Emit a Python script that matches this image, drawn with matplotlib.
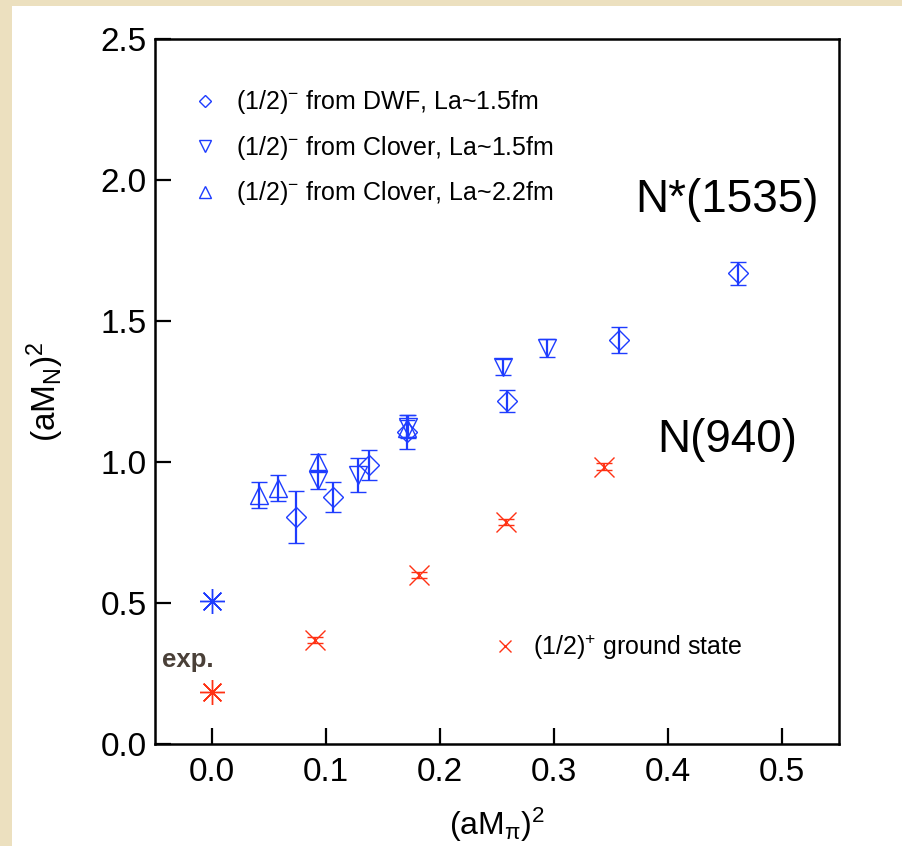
import matplotlib
matplotlib.use("Agg")
import matplotlib.pyplot as plt
from matplotlib.lines import Line2D
from matplotlib.patches import Rectangle

plt.rcParams["font.family"] = ["Liberation Sans", "DejaVu Sans"]
plt.rcParams["mathtext.fontset"] = "custom"
plt.rcParams["mathtext.rm"] = "Liberation Sans"
plt.rcParams["mathtext.it"] = "Liberation Sans:italic"
plt.rcParams["mathtext.default"] = "regular"

BLUE = "#1e3cff"
RED = "#ff3214"

# (1/2)- from DWF, La~1.5fm
dwf_x = [0.074, 0.106, 0.138, 0.171, 0.259, 0.357, 0.461]
dwf_y = [0.806, 0.877, 0.989, 1.107, 1.217, 1.433, 1.669]
dwf_err = [0.092, 0.053, 0.052, 0.060, 0.040, 0.046, 0.040]

# (1/2)- from Clover, La~1.5fm
clv15_x = [0.093, 0.128, 0.172, 0.255, 0.294]
clv15_y = [0.936, 0.954, 1.125, 1.338, 1.403]
clv15_err = [0.030, 0.060, 0.040, 0.028, 0.032]

# (1/2)- from Clover, La~2.2fm
clv22_x = [0.041, 0.058, 0.093, 0.171]
clv22_y = [0.883, 0.907, 1.001, 1.120]
clv22_err = [0.047, 0.047, 0.028, 0.030]

# (1/2)+ ground state
gs_x = [0.090, 0.182, 0.258, 0.344]
gs_y = [0.369, 0.599, 0.787, 0.983]
gs_err = [0.012, 0.012, 0.012, 0.012]

# experiment: N*(1535) and N(940)
exp_x = [0.0, 0.0]
exp_y = [0.507, 0.184]
exp_colors = [BLUE, RED]

fig = plt.figure(figsize=(9.03, 8.46), dpi=100)
fig.patch.set_facecolor("#ece0bf")
# white sheet on the parchment
bg = fig.add_axes([12 / 903, 0, 1 - 12 / 903, 1 - 6 / 846], zorder=-10)
bg.set_axis_off()
bg.add_patch(Rectangle((0, 0), 1, 1, transform=bg.transAxes, facecolor="white", edgecolor="none"))

ax = fig.add_axes([155 / 903, 1 - 744 / 846, (839 - 155) / 903, (744 - 39) / 846])
ax.set_facecolor("white")

eb_kw = dict(ls="none", mfc="none", capsize=6, capthick=1.6, elinewidth=1.6, mew=1.0)
ax.errorbar(dwf_x, dwf_y, yerr=dwf_err, fmt="D", ms=10, color=BLUE, mec=BLUE, **eb_kw)
ax.errorbar(clv15_x, clv15_y, yerr=clv15_err, fmt="v", ms=13.5, color=BLUE, mec=BLUE, **eb_kw)
ax.errorbar(clv22_x, clv22_y, yerr=clv22_err, fmt="^", ms=13.5, color=BLUE, mec=BLUE, **eb_kw)
ax.errorbar(gs_x, gs_y, yerr=gs_err, fmt="x", ms=14, color=RED, mec=RED,
            ls="none", capsize=6, capthick=1.4, elinewidth=1.4, mew=1.0)
for xx, yy, cc in zip(exp_x, exp_y, exp_colors):
    ax.plot(xx, yy, marker=(8, 2, 0), ms=18, mew=1.0, color=cc, ls="none")

ax.set_xlim(-0.05, 0.55)
ax.set_ylim(0, 2.5)
ax.set_xticks([0.0, 0.1, 0.2, 0.3, 0.4, 0.5])
ax.set_yticks([0.0, 0.5, 1.0, 1.5, 2.0, 2.5])
ax.xaxis.set_major_formatter(matplotlib.ticker.FormatStrFormatter("%.1f"))
ax.yaxis.set_major_formatter(matplotlib.ticker.FormatStrFormatter("%.1f"))
ax.tick_params(direction="in", length=11.5, width=1.6, labelsize=24, pad=6)
ax.tick_params(axis="x", pad=9)
for s in ax.spines.values():
    s.set_linewidth(1.8)

ax.set_xlabel(r"$(aM_{\pi})^{2}$", fontsize=23, labelpad=13)
ax.set_ylabel(r"$(aM_{N})^{2}$", fontsize=24, labelpad=25)

ax.text(0.452, 1.887, "N*(1535)", fontsize=33, ha="center", va="baseline")
ax.text(0.452, 1.035, "N(940)", fontsize=33, ha="center", va="baseline")
ax.text(-0.044, 0.273, "exp.", fontsize=18.5, fontweight="bold", color="#4a4038", va="baseline")

blue_handles = [
    Line2D([], [], marker="D", ls="none", mfc="none", mec=BLUE, ms=6, mew=1.0),
    Line2D([], [], marker="v", ls="none", mfc="none", mec=BLUE, ms=8.5, mew=1.0),
    Line2D([], [], marker="^", ls="none", mfc="none", mec=BLUE, ms=8.5, mew=1.0),
]
blue_labels = [
    r"(1/2)$^{-}$ from DWF, La~1.5fm",
    r"(1/2)$^{-}$ from Clover, La~1.5fm",
    r"(1/2)$^{-}$ from Clover, La~2.2fm",
]
leg1 = ax.legend(blue_handles, blue_labels, loc="upper left", bbox_to_anchor=(0.046, 0.944),
                 frameon=False, fontsize=18, handlelength=0.7, handletextpad=0.9,
                 labelspacing=0.7, borderaxespad=0)
ax.add_artist(leg1)
red_handle = [Line2D([], [], marker="x", ls="none", color=RED, ms=9, mew=1.0)]
ax.legend(red_handle, [r"(1/2)$^{+}$ ground state"], loc="upper left",
          bbox_to_anchor=(0.485, 0.172), frameon=False, fontsize=18,
          handlelength=0.7, handletextpad=0.75, borderaxespad=0)

fig.savefig("out.png", dpi=100, facecolor=fig.get_facecolor())
